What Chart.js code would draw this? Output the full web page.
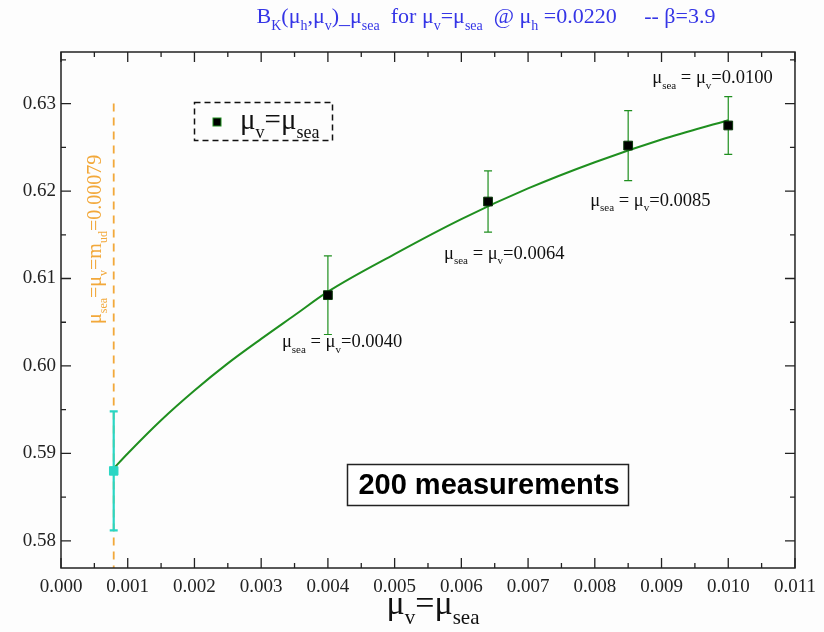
<!DOCTYPE html>
<html>
<head>
<meta charset="utf-8">
<script src="https://cdn.jsdelivr.net/npm/chart.js@4.4.0/dist/chart.umd.min.js"></script>
<style>
  html, body { margin: 0; padding: 0; background: #fdfdfd; }
  #wrap { width: 824px; height: 632px; }
</style>
</head>
<body>
<div id="wrap"><canvas id="grafico" width="824" height="632"></canvas></div>
<script>
// tick labels
const xTicks = [0, 0.001, 0.002, 0.003, 0.004, 0.005, 0.006, 0.007, 0.008, 0.009, 0.010, 0.011];
const yTicks = [0.58, 0.59, 0.60, 0.61, 0.62, 0.63];

// measured points  mu_v = mu_sea
const muValues = [0.0040, 0.0064, 0.0085, 0.0100];
const bkValues = [0.6081, 0.6188, 0.6252, 0.6275];
const bkErrors = [0.0045, 0.0035, 0.0040, 0.0033];
const muLabels = ["0.0040", "0.0064", "0.0085", "0.0100"];

// extrapolated point at mu_ud
const muPhys = [0.00079];
const bkPhys = [0.5880];
const bkPhysErr = [0.0068];

// fit curve
const fitMu = [0.00079, 0.001, 0.0015, 0.002, 0.0025, 0.003, 0.0035, 0.004, 0.005, 0.006, 0.007, 0.008, 0.009, 0.010];
const fitBk = [0.5883, 0.5900, 0.5938, 0.5972, 0.6003, 0.6031, 0.6058, 0.6085, 0.6128, 0.6168, 0.6203, 0.6233, 0.6259, 0.6281];

// vertical marker line
const markMu = [0.00079, 0.00079];
const markBk = [0.63, 0.5769];

const serif = "'Liberation Serif', 'Times New Roman', serif";
const green = "#1f8f1f";
const cyan = "#2ad6c4";
const orange = "#f2a83a";

function drawRich(ctx, parts, x, y, size, color, align) {
  const sub = Math.round(size * 0.62);
  let w = 0;
  parts.forEach(p => {
    ctx.font = (p[1] === "s" ? sub : size) + "px " + serif;
    w += ctx.measureText(p[0]).width;
  });
  let cx = x;
  if (align === "center") cx = x - w / 2;
  ctx.fillStyle = color;
  ctx.textAlign = "left";
  ctx.textBaseline = "alphabetic";
  parts.forEach(p => {
    const s = p[1] === "s";
    ctx.font = (s ? sub : size) + "px " + serif;
    ctx.fillText(p[0], cx, s ? y + size * 0.3 : y);
    cx += ctx.measureText(p[0]).width;
  });
  return w;
}

function errorBars(chart, mus, vals, errs, col, lw) {
  const c = chart.ctx, xs = chart.scales.x, ys = chart.scales.y;
  c.save();
  c.strokeStyle = col;
  c.lineWidth = lw;
  mus.forEach((m, i) => {
    const px = xs.getPixelForValue(m);
    const top = ys.getPixelForValue(vals[i] + errs[i]);
    const bot = ys.getPixelForValue(vals[i] - errs[i]);
    c.beginPath();
    c.moveTo(px, top); c.lineTo(px, bot);
    c.moveTo(px - 4, top); c.lineTo(px + 4, top);
    c.moveTo(px - 4, bot); c.lineTo(px + 4, bot);
    c.stroke();
  });
  c.restore();
}

const labelOffsets = [[-46, 52], [-44, 57], [-38, 60], [-76, -42]];

const deco = {
  id: "deco",
  beforeDraw(chart) {
    const c = chart.ctx;
    c.save();
    c.fillStyle = "#fdfdfd";
    c.fillRect(0, 0, chart.width, chart.height);
    c.restore();
  },
  beforeDatasetsDraw(chart) {
    errorBars(chart, muValues, bkValues, bkErrors, green, 1.2);
  },
  afterDatasetsDraw(chart) {
    errorBars(chart, muPhys, bkPhys, bkPhysErr, cyan, 2.2);
  },
  afterDraw(chart) {
    const c = chart.ctx, xs = chart.scales.x, ys = chart.scales.y;
    const a = chart.chartArea;
    c.save();
    // frame
    c.strokeStyle = "#222";
    c.lineWidth = 1.5;
    c.strokeRect(a.left, a.top, a.right - a.left, a.bottom - a.top);
    // ticks, inward on all sides
    c.lineWidth = 1.3;
    c.beginPath();
    for (let k = 0; k <= 22; k++) {
      const v = k * 0.0005;
      const px = xs.getPixelForValue(v);
      const len = k % 2 === 0 ? 10 : 5;
      c.moveTo(px, a.bottom); c.lineTo(px, a.bottom - len);
      c.moveTo(px, a.top); c.lineTo(px, a.top + len);
    }
    for (let k = 0; k <= 11; k++) {
      const v = 0.58 + k * 0.005;
      if (v > ys.max) break;
      const py = ys.getPixelForValue(v);
      const len = k % 2 === 0 ? 10 : 5;
      c.moveTo(a.left, py); c.lineTo(a.left + len, py);
      c.moveTo(a.right, py); c.lineTo(a.right - len, py);
    }
    c.stroke();

    // title
    drawRich(c, [["B", "n"], ["K", "s"], ["(\u03bc", "n"], ["h", "s"], [",\u03bc", "n"], ["v", "s"], [")_\u03bc", "n"], ["sea", "s"],
      ["  for \u03bc", "n"], ["v", "s"], ["=\u03bc", "n"], ["sea", "s"], ["  @ \u03bc", "n"], ["h", "s"], [" =0.0220     -- \u03b2=3.9", "n"]],
      486, 23, 22, "#3535e6", "center");

    // x axis title
    drawRich(c, [["\u03bc", "n"], ["v", "s"], ["=\u03bc", "n"], ["sea", "s"]], 433, 614, 34, "#111", "center");

    // point labels
    muValues.forEach((m, i) => {
      const px = xs.getPixelForValue(m) + labelOffsets[i][0];
      const py = ys.getPixelForValue(bkValues[i]) + labelOffsets[i][1];
      drawRich(c, [["\u03bc", "n"], ["sea", "s"], [" = \u03bc", "n"], ["v", "s"], ["=" + muLabels[i], "n"]], px, py, 18.5, "#111", "left");
    });

    // rotated label on the marker line
    c.save();
    c.translate(xs.getPixelForValue(muPhys[0]) - 13, 324);
    c.rotate(-Math.PI / 2);
    drawRich(c, [["\u03bc", "n"], ["sea", "s"], ["=\u03bc", "n"], ["v", "s"], ["=m", "n"], ["ud", "s"], ["=0.00079", "n"]], 0, 0, 20, orange, "left");
    c.restore();

    // legend
    c.setLineDash([6, 4]);
    c.strokeStyle = "#111";
    c.lineWidth = 1.5;
    c.strokeRect(194.5, 102.5, 138, 38);
    c.setLineDash([]);
    c.fillStyle = "#000";
    c.fillRect(213, 118, 8, 8);
    c.strokeStyle = green;
    c.lineWidth = 1;
    c.strokeRect(213, 118, 8, 8);
    drawRich(c, [["\u03bc", "n"], ["v", "s"], ["=\u03bc", "n"], ["sea", "s"]], 240, 129, 29, "#111", "left");

    // measurements box
    c.fillStyle = "#fff";
    c.fillRect(347, 464, 281, 41);
    c.strokeStyle = "#222";
    c.lineWidth = 1.5;
    c.strokeRect(347.5, 464.5, 281, 41);
    c.fillStyle = "#000";
    c.font = "bold 29px 'Liberation Sans', Arial, sans-serif";
    c.textAlign = "center";
    c.textBaseline = "middle";
    c.fillText("200 measurements", 489, 486);
    c.restore();
  }
};

new Chart(document.getElementById("grafico"), {
  type: "scatter",
  data: {
    datasets: [
      {
        type: "line",
        order: 2,
        data: fitMu.map((m, i) => ({ x: m, y: fitBk[i] })),
        borderColor: green,
        borderWidth: 2,
        pointRadius: 0,
        cubicInterpolationMode: "monotone",
        fill: false
      },
      {
        type: "line",
        order: 3,
        data: markMu.map((m, i) => ({ x: m, y: markBk[i] })),
        borderColor: orange,
        borderWidth: 1.8,
        borderDash: [8, 6],
        pointRadius: 0,
        fill: false
      },
      {
        order: 1,
        data: muPhys.map((m, i) => ({ x: m, y: bkPhys[i] })),
        pointStyle: "rect",
        pointRadius: 6,
        backgroundColor: cyan,
        borderColor: cyan,
        borderWidth: 1
      },
      {
        order: 0,
        data: muValues.map((m, i) => ({ x: m, y: bkValues[i] })),
        pointStyle: "rect",
        pointRadius: 6.2,
        backgroundColor: "#000",
        borderColor: "#0a3a0a",
        borderWidth: 1
      }
    ]
  },
  options: {
    responsive: false,
    animation: false,
    layout: { padding: { left: 0, right: 27, top: 52, bottom: 0 } },
    plugins: { legend: { display: false }, tooltip: { enabled: false }, title: { display: false } },
    scales: {
      x: {
        type: "linear",
        min: 0,
        max: 0.011,
        grid: { display: false, drawTicks: false },
        border: { display: false },
        afterBuildTicks: s => { s.ticks = xTicks.map(v => ({ value: v })); },
        afterFit: s => { s.height = 64; },
        ticks: {
          padding: 8,
          maxRotation: 0,
          autoSkip: false,
          color: "#222",
          font: { family: serif, size: 19 },
          callback: v => v.toFixed(3)
        }
      },
      y: {
        type: "linear",
        min: 0.5769,
        max: 0.6359,
        grid: { display: false, drawTicks: false },
        border: { display: false },
        afterBuildTicks: s => { s.ticks = yTicks.map(v => ({ value: v })); },
        afterFit: s => { s.width = 61; },
        ticks: {
          padding: 5,
          autoSkip: false,
          color: "#222",
          font: { family: serif, size: 19 },
          callback: v => v.toFixed(2)
        }
      }
    }
  },
  plugins: [deco]
});
</script>
</body>
</html>
